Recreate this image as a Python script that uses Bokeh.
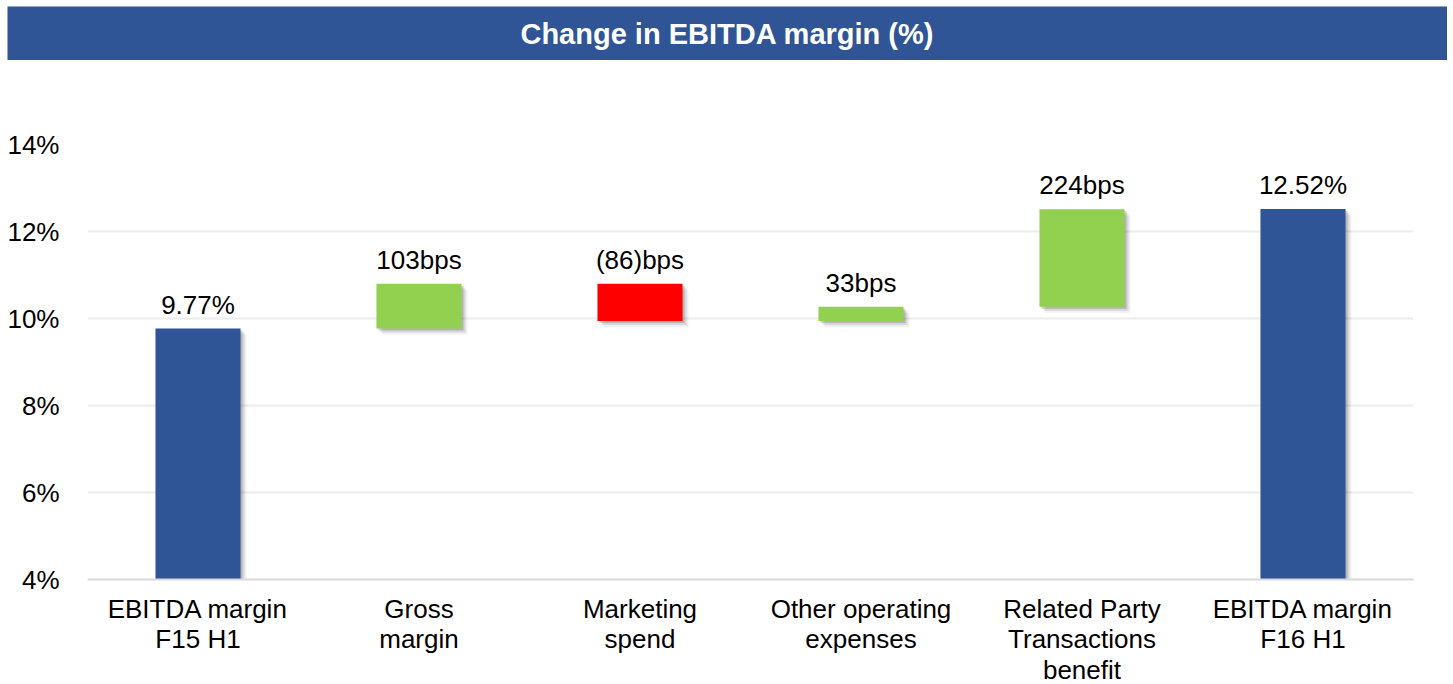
from bokeh.plotting import figure
from bokeh.models import FactorRange, Range1d, ColumnDataSource, NumeralTickFormatter, FixedTicker
from bokeh.transform import dodge
from bokeh.core.properties import value
from bokeh.embed import file_html
from bokeh.resources import INLINE

# ---- data ----
categories = ["EBITDA margin\nF15 H1", "Gross\nmargin", "Marketing\nspend",
              "Other operating\nexpenses", "Related Party\nTransactions\nbenefit",
              "EBITDA margin\nF16 H1"]
start_margin = 9.77
deltas_bps = [103, -86, 33, 224]
end_margin = 12.52
labels = ["9.77%", "103bps", "(86)bps", "33bps", "224bps", "12.52%"]
y_ticks = [4, 6, 8, 10, 12, 14]
y_min, y_max = 4, 14

BLUE = "#2F5597"
GREEN = "#92D050"
RED = "#FF0000"
FONT = "Liberation Sans"

# waterfall geometry from data
bottoms, tops, colors = [y_min], [start_margin], [BLUE]
level = start_margin
for d in deltas_bps:
    new = level + d / 100.0
    bottoms.append(min(level, new))
    tops.append(max(level, new))
    colors.append(GREEN if d >= 0 else RED)
    level = new
bottoms.append(y_min)
tops.append(end_margin)
colors.append(BLUE)

src = ColumnDataSource(dict(x=categories, bottom=bottoms, top=tops, color=colors, label=labels))

# ---- title bar ----
t = figure(frame_width=1440, frame_height=54, x_range=(0, 1), y_range=(0, 1),
           toolbar_location=None, output_backend="svg",
           min_border_left=7, min_border_top=6, min_border_right=0, min_border_bottom=0,
           background_fill_color=BLUE, border_fill_color="white", outline_line_color=None)
t.axis.visible = False
t.grid.visible = False
t.text(x=[0.5], y=[0.5], text=["Change in EBITDA margin (%)"], text_align="center",
       text_baseline="middle", text_color="white", text_font=value(FONT),
       text_font_size="29px", text_font_style="bold")

# ---- main chart ----
p = figure(x_range=FactorRange(*categories), y_range=Range1d(y_min, y_max),
           frame_width=1326, frame_height=435,
           min_border_left=87, min_border_right=30, min_border_top=84, min_border_bottom=0,
           toolbar_location=None, output_backend="svg", outline_line_color=None)
p.x_range.range_padding = 0

# soft shadows
for dx, dy, a in [(0.027, 0.14, 0.06), (0.018, 0.09, 0.10), (0.009, 0.045, 0.16)]:
    ssrc = ColumnDataSource(dict(x=categories, bottom=[b - dy for b in bottoms],
                                 top=[tt - dy for tt in tops]))
    p.vbar(x=dodge("x", dx, range=p.x_range), bottom="bottom", top="top", width=0.385,
           source=ssrc, fill_color="black", fill_alpha=a, line_color=None)

p.vbar(x="x", bottom="bottom", top="top", width=0.385, source=src,
       fill_color="color", line_color=None)

p.text(x="x", y="top", text="label", source=src, text_align="center",
       text_baseline="bottom", y_offset=-9, text_font=value(FONT),
       text_font_size="26px", text_color="black")

# axes
p.yaxis.ticker = FixedTicker(ticks=y_ticks)
p.yaxis.formatter = NumeralTickFormatter(format="0")
p.yaxis.major_label_overrides = {v: f"{v}%" for v in y_ticks}
p.yaxis.axis_line_color = None
p.yaxis.major_tick_line_color = None
p.yaxis.minor_tick_line_color = None
p.yaxis.major_label_standoff = 22
p.yaxis.major_label_text_font = FONT
p.yaxis.major_label_text_font_size = "26px"
p.yaxis.major_label_text_color = "black"

p.xaxis.axis_line_color = "#d9d9d9"
p.xaxis.axis_line_width = 2
p.xaxis.major_tick_line_color = None
p.xaxis.minor_tick_line_color = None
p.xaxis.major_label_standoff = 8
p.xaxis.major_label_text_font = FONT
p.xaxis.major_label_text_font_size = "26px"
p.xaxis.major_label_text_line_height = 1.03
p.xaxis.major_label_text_color = "black"
p.xaxis.major_label_orientation = "horizontal"

p.xgrid.visible = False
p.ygrid.grid_line_color = "#ececec"
p.ygrid.grid_line_width = 2

open("out.html", "w").write(file_html([t, p], INLINE))
